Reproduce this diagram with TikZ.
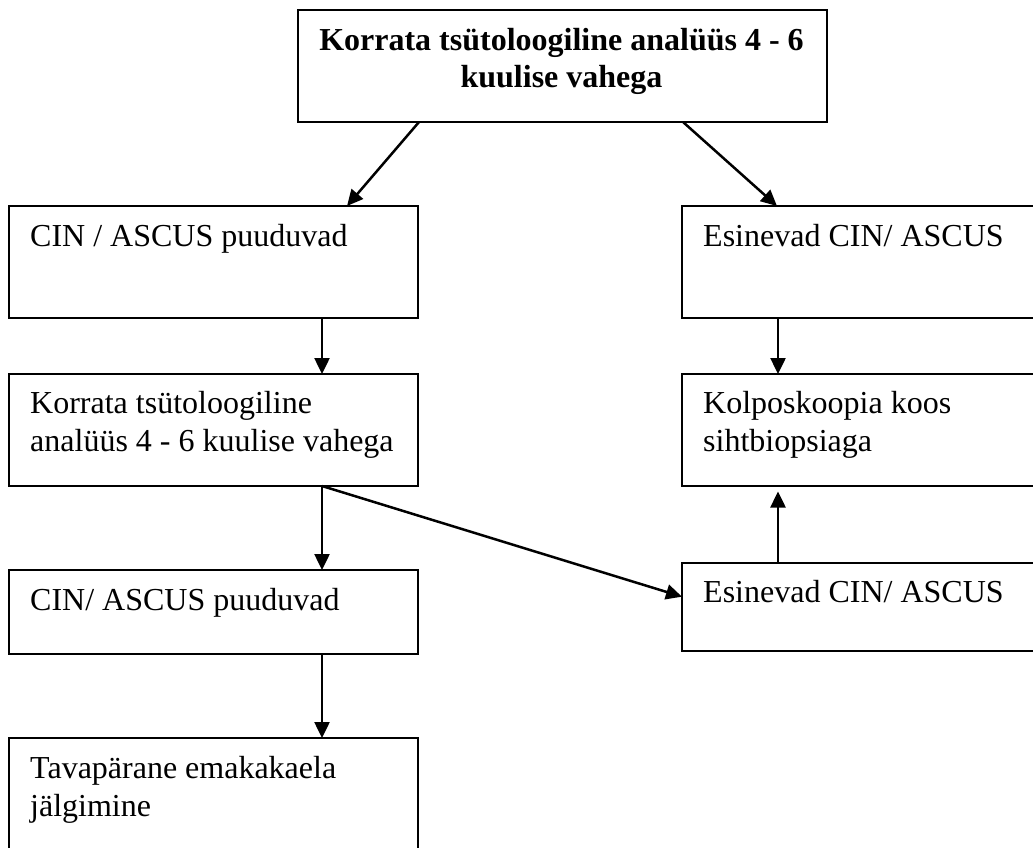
\documentclass[tikz,border=0pt]{standalone}
\usepackage{fontspec}
\setmainfont{Liberation Serif}
\usetikzlibrary{arrows.meta}
\begin{document}
\begin{tikzpicture}[x=1pt,y=-1pt,
  box/.style={draw, line width=2pt, rectangle, inner sep=0pt, outer sep=0pt,
    anchor=north west, minimum width=409pt, minimum height=112pt},
  txt/.style={anchor=base west, inner sep=0pt, align=left,
    font=\fontsize{32}{38.3}\selectfont},
  arr/.style={line width=2.5pt, -{Triangle[length=16pt,width=15pt]}}]
\clip (0,0) rectangle (1033,848);

% boxes
\node[box, minimum width=529pt] (T) at (298,10) {};
\node[box] (L1) at (9,206) {};
\node[box, minimum width=420pt] (R1) at (682,206) {};
\node[box] (L2) at (9,374) {};
\node[box, minimum width=420pt] (R2) at (682,374) {};
\node[box, minimum height=84pt] (L3) at (9,570) {};
\node[box, minimum width=420pt, minimum height=88pt] (R3) at (682,562.7) {};
\node[box, minimum height=150pt] (L4) at (9,738) {};

% texts (a multi-line node sits on the baseline of its last line)
\node[anchor=base, inner sep=0pt, align=center,
  font=\fontsize{32}{37}\selectfont\bfseries] (tT) at ([shift={(-1pt,-78pt)}]T.north)
  {Korrata tsütoloogiline analüüs 4 - 6\\kuulise vahega};
\node[txt] (tL1) at ([shift={(21pt,-40.5pt)}]L1.north west) {CIN / ASCUS puuduvad};
\node[txt] (tR1) at ([shift={(21pt,-40.5pt)}]R1.north west) {Esinevad CIN/ ASCUS};
\node[txt] (tL2) at ([shift={(21pt,-77.8pt)}]L2.north west) {Korrata tsütoloogiline\\analüüs 4 - 6 kuulise vahega};
\node[txt] (tR2) at ([shift={(21pt,-77.8pt)}]R2.north west) {Kolposkoopia koos\\sihtbiopsiaga};
\node[txt] (tL3) at ([shift={(21pt,-40pt)}]L3.north west) {CIN/ ASCUS puuduvad};
\node[txt] (tR3) at ([shift={(21pt,-40pt)}]R3.north west) {Esinevad CIN/ ASCUS};
\node[txt] (tL4) at ([shift={(21pt,-78.3pt)}]L4.north west) {Tavapärane emakakaela\\jälgimine};

% connectors
\draw[arr] ([xshift=121pt]T.south west) -- ([xshift=338pt]L1.north west);
\draw[arr] ([xshift=385pt]T.south west) -- ([xshift=95pt]R1.north west);
\draw[arr] ([xshift=313pt]L1.south west) -- ([xshift=313pt]L2.north west);
\draw[arr] ([xshift=96pt]R1.south west) -- ([xshift=96pt]R2.north west);
\draw[arr] ([xshift=313pt]L2.south west) -- ([xshift=313pt]L3.north west);
\draw[arr] ([xshift=313pt]L2.south west) -- ([yshift=-34pt]R3.north west);
\draw[arr, shorten >=5.5pt] ([xshift=96pt]R3.north west) -- ([xshift=96pt]R2.south west);
\draw[arr] ([xshift=313pt]L3.south west) -- ([xshift=313pt]L4.north west);
\end{tikzpicture}
\end{document}
